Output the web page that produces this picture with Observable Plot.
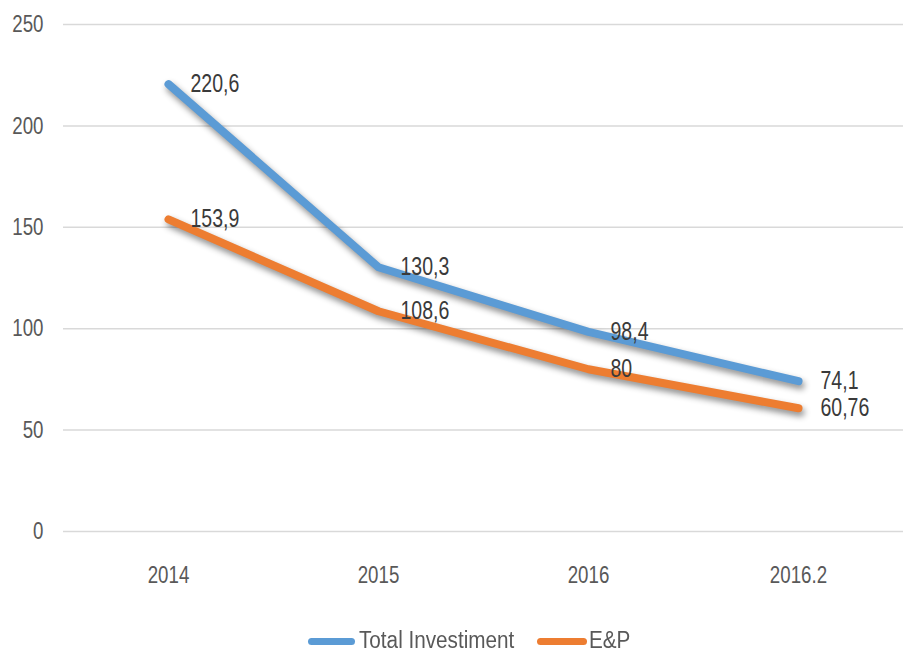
<!DOCTYPE html>
<html>
<head>
<meta charset="utf-8">
<script src="https://cdn.jsdelivr.net/npm/d3@7"></script>
<script src="https://cdn.jsdelivr.net/npm/@observablehq/plot@0.6"></script>
<style>
  body { margin: 0; background: #fff; font-family: "Liberation Sans", Arial, sans-serif; }
  #legend { position: relative; height: 40px; font-size: 23px; color: #595959; }
  .sw { position: absolute; top: 23px; height: 7px; border-radius: 4px; }
  .lt { position: absolute; top: 12px; line-height: 26px; white-space: nowrap; transform: scaleX(0.9); transform-origin: left center; }
</style>
</head>
<body>
<div id="chart"></div>
<div id="legend">
  <span class="sw" style="left:308px;width:47px;background:#5b9bd5"></span>
  <span class="lt" style="left:359px">Total Investiment</span>
  <span class="sw" style="left:537px;width:50px;background:#ed7d31"></span>
  <span class="lt" style="left:589px">E&amp;P</span>
</div>
<script>
const categories = ["2014", "2015", "2016", "2016.2"];
const totalInvestment = [220.6, 130.3, 98.4, 74.1];
const ep = [153.9, 108.6, 80, 60.76];
const seriesNames = ["Total Investiment", "E&P"];
const colors = ["#5b9bd5", "#ed7d31"];
const yTicks = [0, 50, 100, 150, 200, 250];

const data = [];
categories.forEach((c, i) => data.push({cat: c, value: totalInvestment[i], series: seriesNames[0]}));
categories.forEach((c, i) => data.push({cat: c, value: ep[i], series: seriesNames[1]}));

const fmt = v => String(v).replace(".", ",");
const font = '"Liberation Sans", Arial, sans-serif';

const chart = Plot.plot({
  width: 903,
  height: 615,
  marginLeft: 63,
  marginRight: 0,
  marginTop: 24,
  marginBottom: 84,
  style: {fontFamily: font, fontSize: "24px", color: "#595959", background: "#fff"},
  x: {type: "band", domain: categories, padding: 0, label: null},
  y: {domain: [0, 250], ticks: yTicks, label: null},
  color: {domain: seriesNames, range: colors},
  marks: [
    Plot.gridY(yTicks, {stroke: "#d9d9d9", strokeOpacity: 1, strokeWidth: 1.5}),
    Plot.axisY(yTicks, {tickSize: 0, tickPadding: 20, fontSize: 24, fill: "#595959"}),
    Plot.axisX({tickSize: 0, tickPadding: 34, fontSize: 24, fill: "#595959"}),
    Plot.line(data, {x: "cat", y: "value", z: "series", stroke: "series", strokeWidth: 8, strokeLinejoin: "round", strokeLinecap: "round", curve: "linear"}),
    Plot.text(data, {x: "cat", y: "value", text: d => fmt(d.value), dx: 22, textAnchor: "start", fontSize: 25, fill: "#3a3a3a"})
  ]
});
document.getElementById("chart").appendChild(chart);
d3.select(chart).selectAll('g[aria-label="line"] path')
  .style("filter", "drop-shadow(2px 4px 3px rgba(0,0,0,0.45))");
// condense text horizontally to mimic the narrow font of the original
d3.select(chart).selectAll("text").each(function() {
  const len = this.getComputedTextLength();
  if (len > 0) {
    this.setAttribute("textLength", (len * 0.78).toFixed(1));
    this.setAttribute("lengthAdjust", "spacingAndGlyphs");
  }
});
</script>
</body>
</html>
